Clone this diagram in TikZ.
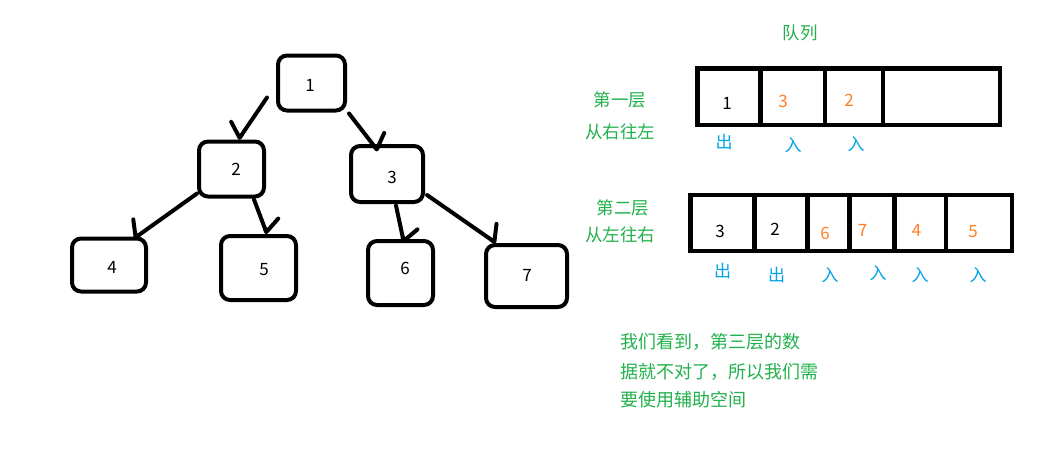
\documentclass[tikz,border=0pt]{standalone}
\usepackage{fontspec}
\setmainfont{Noto Sans CJK SC}
\usetikzlibrary{arrows.meta}
\definecolor{pgreen}{RGB}{34,177,76}
\definecolor{pblue}{RGB}{0,162,232}
\definecolor{porange}{RGB}{255,127,39}
\begin{document}
\begin{tikzpicture}[x=1pt,y=-1pt,
  tbox/.style={draw, line width=4pt, rounded corners=9pt, inner sep=0pt},
  num/.style={inner sep=0pt, font=\fontsize{17}{20}\selectfont},
  cjk/.style={inner sep=0pt, text=pgreen, font=\fontsize{17.5}{20}\selectfont},
  io/.style={inner sep=0pt, text=pblue, font=\fontsize{17}{20}\selectfont},
  qline/.style={line width=4.5pt},
  edgeL/.style={line width=4pt, line cap=round, -{Straight Barb[round,right,length=8.5pt,width=32pt]}},
  edgeR/.style={line width=4pt, line cap=round, -{Straight Barb[round,left,length=8.5pt,width=32pt]}}
]
\useasboundingbox (0,0) rectangle (1060,456);
\fill[white] (0,0) rectangle (1060,456);

% tree boxes
\node[tbox, minimum width=67pt, minimum height=55pt] (n1) at (311.5,83) {};
\node[tbox, minimum width=65pt, minimum height=55pt] (n2) at (231.5,169) {};
\node[tbox, minimum width=72pt, minimum height=56pt] (n3) at (387,174) {};
\node[tbox, minimum width=74pt, minimum height=53pt] (n4) at (109,265) {};
\node[tbox, minimum width=75pt, minimum height=64pt] (n5) at (258.5,268) {};
\node[tbox, minimum width=65pt, minimum height=64pt] (n6) at (400.5,273) {};
\node[tbox, minimum width=81pt, minimum height=62pt] (n7) at (526.5,276) {};
% tree labels
\node[num] (l1) at (310,85) {1};
\node[num] (l2) at (236,169) {2};
\node[num] (l3) at (392,177) {3};
\node[num] (l4) at (112,267) {4};
\node[num] (l5) at (264,270) {5};
\node[num] (l6) at (405,268) {6};
\node[num] (l7) at (527,275) {7};

% tree edges
\draw[edgeL] ([shift={(-9,-15)}]n1.south west) -- ([xshift=7pt]n2.north);
\draw[edgeR] ([shift={(2,1)}]n1.south east) -- ([shift={(-9,7)}]n3.north);
\draw[edgeL] ([shift={(0,-5)}]n2.south west) -- ([shift={(-14,2)}]n4.north east);
\draw[edgeR] ([shift={(-12,1)}]n2.south east) -- ([xshift=8.5pt]n5.north);
\draw[edgeR] ([shift={(9,1.6)}]n3.south) -- ([shift={(3.5,4)}]n6.north);
\draw[edgeR] ([shift={(2,-9)}]n3.south east) -- ([xshift=12pt]n7.north west);

% queue title
\node[cjk] (qt) at (800,33) {队列};

% queue 1
\draw[qline] (697.25,68.25) rectangle (999.75,124.75);
\draw[qline] (760.5,68.25) -- (760.5,124.75);
\draw[qline] (825,68.25) -- (825,124.75);
\draw[qline] (883,68.25) -- (883,126.5);
\node[cjk] (a1) at (620,99.5) {第一层};
\node[cjk] (a2) at (620,131.5) {从右往左};
\node[num] (q11) at (727,103) {1};
\node[num, text=porange] (q12) at (783,101.5) {3};
\node[num, text=porange] (q13) at (849,100) {2};
\node[io] (o11) at (724,142) {出};
\node[io] (o12) at (793,145) {入};
\node[io] (o13) at (856,144) {入};

% queue 2
\draw[qline] (690.5,195) rectangle (1011.75,251);
\draw[qline] (754.7,195) -- (754.7,251);
\draw[qline] (807.3,195) -- (807.3,251);
\draw[qline] (849.5,195) -- (849.5,251);
\draw[qline] (894.7,195) -- (894.7,251);
\draw[qline] (946,195) -- (946,251);
\node[cjk] (b1) at (623,208) {第二层};
\node[cjk] (b2) at (620,235) {从左往右};
\node[num] (q21) at (720,231.5) {3};
\node[num] (q22) at (775,229) {2};
\node[num, text=porange] (q23) at (825,233) {6};
\node[num, text=porange] (q24) at (862.5,230) {7};
\node[num, text=porange] (q25) at (916.5,230) {4};
\node[num, text=porange] (q26) at (973,231.5) {5};
\node[io] (o21) at (722.5,271.5) {出};
\node[io] (o22) at (776.5,275) {出};
\node[io] (o23) at (830,275) {入};
\node[io] (o24) at (878,273) {入};
\node[io] (o25) at (920,275) {入};
\node[io] (o26) at (978,275) {入};

% note
\node[cjk, anchor=west, font=\fontsize{18}{20}\selectfont] (t1) at (620,341.5) {我们看到，第三层的数};
\node[cjk, anchor=west, font=\fontsize{18}{20}\selectfont] (t2) at (620,371.5) {据就不对了，所以我们需};
\node[cjk, anchor=west, font=\fontsize{18}{20}\selectfont] (t3) at (620,400) {要使用辅助空间};
\end{tikzpicture}
\end{document}
